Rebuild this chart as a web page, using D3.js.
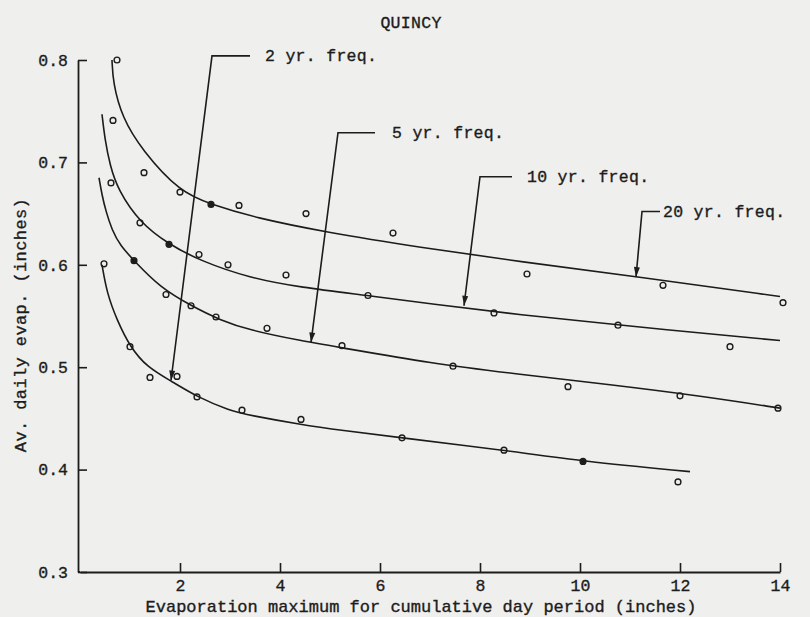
<!DOCTYPE html>
<html>
<head>
<meta charset="utf-8">
<script src="https://cdn.jsdelivr.net/npm/d3@7"></script>
<style>
  html, body { margin: 0; padding: 0; background: #efefed; }
  svg { display: block; }
  text { font-family: "Liberation Mono", "DejaVu Sans Mono", monospace; fill: #1c1c1c; stroke: #1c1c1c; stroke-width: 0.35px; }
</style>
</head>
<body>
<script>
// ---- data ----
const title = "QUINCY";
const xLabel = "Evaporation maximum for cumulative day period (inches)";
const yLabel = "Av. daily evap. (inches)";
const xTicks = [2, 4, 6, 8, 10, 12, 14];
const yTicks = [0.3, 0.4, 0.5, 0.6, 0.7, 0.8];

// observed points [x, y]
const pts20 = [[0.74,0.800],[2.0,0.671],[2.62,0.659],[3.18,0.658],[4.52,0.650],[6.26,0.631],[8.94,0.591],[11.66,0.580],[14.06,0.563]];
const pts10 = [[0.66,0.741],[1.28,0.690],[1.20,0.641],[1.78,0.620],[2.38,0.610],[2.96,0.600],[4.12,0.590],[5.76,0.570],[8.28,0.553],[10.76,0.541],[13.0,0.520]];
const pts5  = [[0.62,0.680],[1.08,0.604],[1.72,0.571],[2.22,0.560],[2.72,0.549],[3.74,0.538],[5.24,0.521],[7.46,0.501],[9.76,0.481],[12.0,0.472],[13.96,0.460]];
const pts2  = [[0.48,0.601],[1.0,0.520],[1.4,0.490],[1.94,0.491],[2.34,0.471],[3.24,0.458],[4.42,0.449],[6.44,0.431],[8.48,0.419],[10.06,0.408],[11.96,0.388]];
// points printed as solid dots
const solidPts = [[2.62,0.659],[1.78,0.620],[1.08,0.604],[10.06,0.408]];

// fitted curves
const curve20 = [[0.64,0.800],[0.66,0.778],[0.84,0.744],[1.24,0.712],[2.0,0.671],[2.62,0.659],[3.5,0.646],[4.9,0.632],[6.8,0.617],[8.8,0.603],[11.2,0.588],[14.0,0.569]];
const curve10 = [[0.44,0.747],[0.50,0.722],[0.60,0.697],[0.76,0.673],[1.20,0.641],[1.78,0.620],[2.40,0.604],[3.40,0.587],[4.40,0.578],[5.76,0.570],[7.00,0.562],[8.80,0.551],[10.8,0.541],[14.0,0.526]];
const curve5  = [[0.38,0.685],[0.44,0.668],[0.52,0.652],[0.64,0.634],[0.80,0.619],[1.10,0.603],[1.60,0.578],[2.22,0.560],[2.80,0.546],[3.40,0.536],[4.40,0.526],[5.24,0.519],[7.00,0.504],[8.80,0.493],[10.6,0.483],[12.4,0.472],[14.0,0.460]];
const curve2  = [[0.44,0.600],[0.54,0.572],[0.74,0.546],[1.00,0.520],[1.34,0.500],[1.84,0.486],[2.34,0.471],[3.00,0.4575],[3.40,0.453],[4.42,0.444],[5.20,0.4385],[6.44,0.431],[8.48,0.419],[10.06,0.408],[12.2,0.398]];

// leader annotations (data units)
const leaderLabels  = ["2 yr. freq.", "5 yr. freq.", "10 yr. freq.", "20 yr. freq."];
const leaderTips    = [[1.82,0.487],[4.62,0.524],[7.68,0.560],[11.12,0.588]];
const leaderCorners = [[2.64,0.804],[5.16,0.729],[8.0,0.686],[11.24,0.652]];
const leaderEndsX   = [3.4, 5.9, 8.64, 11.6];
const leaderTextX   = [3.7, 6.24, 8.94, 11.66];

// ---- drawing ----
const W = 810, H = 617;
const ink = "#1c1c1c";
const svg = d3.select("body").append("svg").attr("width", W).attr("height", H);
svg.append("rect").attr("width", W).attr("height", H).attr("fill", "#efefed");

const x = d3.scaleLinear().domain([0, 14]).range([80, 780]);
const y = d3.scaleLinear().domain([0.3, 0.8]).range([572, 60]);

const fontSize = 16.5, ls = "0.3px";

// axes
const gy = svg.append("g").attr("transform", `translate(${x(0) - 2},0)`)
  .call(d3.axisLeft(y).tickValues(yTicks).tickFormat(d3.format(".1f"))
        .tickSizeInner(-9).tickSizeOuter(0).tickPadding(10));
const gx = svg.append("g").attr("transform", `translate(0,${y(0.3)})`)
  .call(d3.axisBottom(x).tickValues(xTicks).tickFormat(d3.format("d"))
        .tickSizeInner(-9).tickSizeOuter(0).tickPadding(7));
[gy, gx].forEach(g => {
  g.selectAll("path.domain").attr("stroke", ink).attr("stroke-width", 1.8);
  g.selectAll(".tick line").attr("stroke", ink).attr("stroke-width", 1.6);
  g.selectAll(".tick text").attr("fill", ink)
    .style("font-family", '"Liberation Mono", monospace')
    .style("font-size", fontSize + "px").style("letter-spacing", "0px");
});
// extend bottom axis to meet left axis
svg.append("line").attr("x1", x(0) - 2).attr("x2", x(0)).attr("y1", y(0.3)).attr("y2", y(0.3))
  .attr("stroke", ink).attr("stroke-width", 1.8);

// titles
svg.append("text").attr("x", 411).attr("y", 28).attr("text-anchor", "middle")
  .style("font-size", fontSize + "px").style("letter-spacing", ls).text(title);
svg.append("text").attr("x", 421).attr("y", 612).attr("text-anchor", "middle")
  .style("font-size", "17px").style("letter-spacing", "0px").text(xLabel);
svg.append("text").attr("transform", "translate(26,325) rotate(-90)").attr("text-anchor", "middle")
  .style("font-size", "17px").style("letter-spacing", "0.4px").text(yLabel);

// curves
const line = d3.line().x(d => x(d[0])).y(d => y(d[1])).curve(d3.curveBasis);
[curve20, curve10, curve5, curve2].forEach(c => {
  svg.append("path").attr("d", line(c)).attr("fill", "none")
    .attr("stroke", ink).attr("stroke-width", 1.6);
});

// points
[pts20, pts10, pts5, pts2].forEach(p => {
  svg.append("g").selectAll("circle").data(p).join("circle")
    .attr("cx", d => x(d[0])).attr("cy", d => y(d[1])).attr("r", 2.9)
    .attr("fill", "none").attr("stroke", ink).attr("stroke-width", 1.4);
});
svg.append("g").selectAll("circle").data(solidPts).join("circle")
  .attr("cx", d => x(d[0])).attr("cy", d => y(d[1])).attr("r", 2.6)
  .attr("fill", ink);

// leaders
leaderLabels.forEach((lab, i) => {
  const cx = x(leaderCorners[i][0]), cy = y(leaderCorners[i][1]);
  const tx = x(leaderTips[i][0]), ty = y(leaderTips[i][1]);
  const ex = x(leaderEndsX[i]);
  svg.append("path").attr("d", `M${ex},${cy}L${cx},${cy}L${tx},${ty}`)
    .attr("fill", "none").attr("stroke", ink).attr("stroke-width", 1.6);
  const dx = tx - cx, dy = ty - cy, len = Math.hypot(dx, dy);
  const ux = dx / len, uy = dy / len, L = 10, hw = 3;
  const bx = tx - ux * L, by = ty - uy * L;
  svg.append("path")
    .attr("d", `M${tx},${ty}L${bx - uy * hw},${by + ux * hw}L${bx + uy * hw},${by - ux * hw}Z`)
    .attr("fill", ink);
  svg.append("text").attr("x", x(leaderTextX[i])).attr("y", cy + 5)
    .style("font-size", fontSize + "px").style("letter-spacing", ls).text(lab);
});
</script>
</body>
</html>
